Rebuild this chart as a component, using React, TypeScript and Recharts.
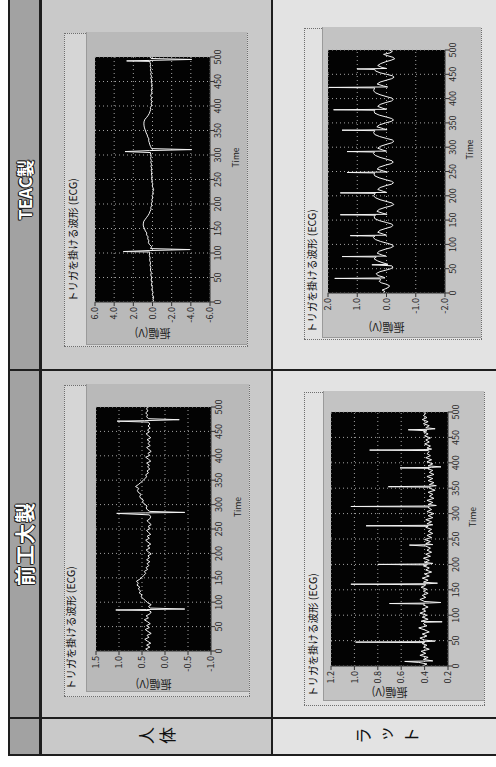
import React from "react";
import { LineChart, Line, XAxis, YAxis, CartesianGrid, Label } from "recharts";

// ---------- texts ----------
const columnHeaders = ["前工大製", "TEAC製"];
const rowLabels = ["人体", "ラット"];
const chartTitle = "トリガを掛ける波形 (ECG)";
const yAxisTitle = "振幅(V)";
const xAxisTitle = "Time";

// ---------- ticks ----------
const timeTicks = [0, 50, 100, 150, 200, 250, 300, 350, 400, 450, 500];
const humanMaekoudaiTicks = [-1, -0.5, 0, 0.5, 1, 1.5];
const humanTeacTicks = [-6, -4, -2, 0, 2, 4, 6];
const ratMaekoudaiTicks = [0.2, 0.4, 0.6, 0.8, 1.0, 1.2];
const ratTeacTicks = [-2, -1, 0, 1, 2];

// ---------- series: [time, volts] ----------
const humanMaekoudaiEcg: [number, number][] = [
  [0,0.36],[4,0.42],[8,0.33],[12,0.40],[16,0.31],[20,0.38],[24,0.44],[28,0.35],[32,0.39],[36,0.30],
  [40,0.37],[44,0.43],[48,0.34],[52,0.40],[56,0.32],[60,0.38],[64,0.45],[68,0.36],[72,0.41],[76,0.33],
  [80,0.30],[83,0.35],[84,1.07],[85,0.40],[86,-0.43],[88,0.32],[91,0.36],[95,0.30],[99,0.38],[103,0.42],
  [107,0.47],[111,0.52],[115,0.50],[119,0.56],[123,0.53],[127,0.58],[131,0.55],[135,0.61],[139,0.58],[143,0.62],
  [147,0.55],[151,0.50],[155,0.46],[159,0.42],[163,0.45],[167,0.38],[171,0.41],[175,0.35],[179,0.39],[183,0.33],
  [187,0.40],[191,0.34],[195,0.37],[199,0.30],[203,0.36],[207,0.41],[211,0.33],[215,0.38],[219,0.31],[223,0.37],
  [227,0.42],[231,0.34],[235,0.39],[239,0.31],[243,0.36],[247,0.40],[251,0.32],[255,0.37],[259,0.30],[263,0.35],
  [267,0.39],[271,0.33],[275,0.31],[279,0.34],[282,1.05],[283,0.42],[284,-0.43],[286,0.33],[289,0.38],[293,0.41],
  [297,0.39],[301,0.44],[305,0.49],[309,0.47],[313,0.53],[317,0.55],[321,0.52],[325,0.58],[329,0.60],[333,0.57],
  [337,0.64],[341,0.58],[345,0.53],[349,0.48],[353,0.44],[357,0.40],[361,0.42],[365,0.36],[369,0.39],[373,0.33],
  [377,0.38],[381,0.34],[385,0.40],[389,0.31],[393,0.36],[397,0.42],[401,0.33],[405,0.37],[409,0.30],[413,0.35],
  [417,0.40],[421,0.32],[425,0.37],[429,0.33],[433,0.39],[437,0.31],[441,0.36],[445,0.41],[449,0.34],[453,0.38],
  [457,0.32],[461,0.37],[465,0.33],[469,0.36],[471,1.04],[472,0.45],[474,-0.31],[476,0.36],[480,0.40],[484,0.38],
  [488,0.42],[492,0.37],[496,0.40],[500,0.38],
];

const humanTeacEcg: [number, number][] = [
  [0,-0.15],[5,-0.05],[10,-0.12],[15,0.02],[20,-0.06],[25,0.08],[30,0.0],[35,0.12],[40,0.05],[45,0.15],
  [50,0.08],[55,0.18],[60,0.12],[65,0.22],[70,0.17],[75,0.26],[80,0.2],[85,0.3],[90,0.25],[95,0.33],
  [100,0.3],[102,0.28],[103,3.04],[105,0.35],[107,-3.9],[109,0.2],[113,0.09],[117,0.3],[121,0.43],[125,0.38],
  [129,0.5],[133,0.46],[137,0.62],[141,0.6],[145,0.75],[149,0.82],[153,0.92],[157,0.97],[161,0.95],[165,0.9],
  [169,0.75],[173,0.6],[177,0.45],[181,0.33],[185,0.26],[189,0.15],[193,0.18],[197,0.08],[201,0.12],[205,0.02],
  [209,0.07],[213,-0.04],[217,0.05],[221,-0.1],[225,-0.02],[229,-0.12],[233,-0.05],[237,0.03],[241,-0.04],[245,0.08],
  [249,0.02],[253,0.1],[257,0.04],[261,0.12],[265,0.06],[269,0.14],[273,0.08],[277,0.16],[281,0.1],[285,0.18],
  [289,0.12],[293,0.2],[297,0.15],[301,0.22],[305,0.2],[307,2.87],[309,0.3],[311,-4.09],[313,0.1],[317,0.19],
  [321,0.28],[325,0.33],[329,0.4],[333,0.38],[337,0.5],[341,0.55],[345,0.66],[349,0.72],[353,0.8],[357,0.86],
  [361,0.89],[365,0.9],[369,0.87],[373,0.78],[377,0.6],[381,0.45],[385,0.33],[389,0.26],[393,0.18],[397,0.22],
  [401,0.1],[405,0.14],[409,0.06],[413,0.16],[417,0.08],[421,0.2],[425,0.1],[429,0.05],[433,0.13],[437,0.02],
  [441,0.11],[445,0.04],[449,0.15],[453,0.07],[457,0.18],[461,0.1],[465,0.2],[469,0.12],[473,0.22],[477,0.16],
  [481,0.24],[485,0.2],[489,0.26],[491,0.25],[492,2.7],[493,0.3],[495,-4.09],[497,0.15],[500,0.26],
];

const ratMaekoudaiEcg: [number, number][] = [
  [0,0.42],[4,0.38],[7,0.45],[9,0.57],[10,0.33],[13,0.41],[17,0.37],[21,0.44],[25,0.39],[29,0.43],
  [33,0.36],[37,0.41],[41,0.38],[44,0.42],[46,0.40],[47,0.99],[48,0.38],[49,0.31],[51,0.40],[55,0.44],
  [59,0.38],[63,0.42],[67,0.36],[71,0.40],[75,0.45],[79,0.38],[83,0.41],[86,0.40],[87,0.25],[88,0.43],
  [92,0.37],[96,0.42],[100,0.38],[104,0.44],[108,0.39],[112,0.42],[116,0.37],[120,0.41],[122,0.40],[123,0.70],
  [124,0.36],[125,0.26],[127,0.40],[131,0.44],[135,0.39],[139,0.42],[143,0.37],[147,0.41],[151,0.38],[155,0.43],
  [158,0.40],[160,0.39],[161,1.03],[162,0.37],[163,0.29],[165,0.41],[169,0.37],[173,0.42],[177,0.36],[181,0.40],
  [185,0.34],[189,0.39],[193,0.36],[197,0.41],[199,0.38],[200,0.80],[201,0.36],[202,0.33],[204,0.40],[208,0.36],
  [212,0.41],[216,0.35],[220,0.39],[224,0.34],[228,0.38],[232,0.35],[236,0.39],[238,0.53],[239,0.33],[241,0.39],
  [245,0.35],[249,0.40],[253,0.34],[257,0.38],[261,0.33],[265,0.37],[269,0.34],[273,0.39],[275,0.37],[276,0.90],
  [277,0.36],[278,0.33],[280,0.38],[284,0.34],[288,0.39],[292,0.33],[296,0.37],[300,0.32],[304,0.38],[308,0.34],
  [312,0.37],[313,0.36],[314,1.03],[315,0.35],[316,0.30],[318,0.37],[322,0.33],[326,0.38],[330,0.32],[334,0.36],
  [338,0.33],[342,0.37],[346,0.31],[350,0.36],[352,0.35],[353,0.71],[354,0.34],[355,0.30],[357,0.36],[361,0.32],
  [365,0.37],[369,0.33],[373,0.38],[377,0.32],[381,0.36],[385,0.33],[388,0.37],[389,0.36],[390,0.61],[391,0.34],
  [392,0.26],[394,0.37],[398,0.33],[402,0.38],[406,0.34],[410,0.39],[414,0.35],[418,0.38],[422,0.36],[424,0.37],
  [425,0.87],[426,0.36],[427,0.34],[429,0.38],[433,0.35],[437,0.40],[441,0.36],[445,0.39],[449,0.35],[453,0.40],
  [457,0.37],[461,0.41],[463,0.38],[465,0.54],[466,0.36],[467,0.31],[469,0.39],[473,0.36],[477,0.41],[481,0.37],
  [485,0.42],[489,0.38],[493,0.41],[497,0.39],[500,0.40],
];

const ratTeacEcg: [number, number][] = [
  [0,0.12],[3,0.05],[6,0.15],[9,0.02],[12,-0.08],[15,-0.1],[18,0.0],[21,0.18],[24,0.25],[27,0.2],
  [29,0.22],[30,1.77],[31,0.05],[33,0.12],[36,0.3],[40,0.35],[44,0.22],[47,0.02],[50,-0.15],[53,-0.22],
  [56,-0.18],[58,0.5],[59,-0.05],[62,0.12],[66,0.3],[70,0.42],[73,0.38],[74,0.35],[75,1.52],[76,0.02],
  [78,0.15],[82,0.32],[86,0.25],[90,0.05],[93,-0.14],[96,-0.24],[99,-0.2],[102,-0.05],[106,0.2],[110,0.38],
  [114,0.45],[117,0.4],[118,1.24],[119,0.0],[121,0.1],[125,0.3],[129,0.22],[133,0.02],[136,-0.16],[139,-0.22],
  [142,-0.18],[145,0.0],[149,0.25],[153,0.4],[157,0.42],[160,0.38],[161,1.58],[162,-0.02],[164,0.12],[168,0.33],
  [172,0.25],[176,0.05],[179,-0.15],[182,-0.25],[185,-0.2],[188,-0.02],[192,0.22],[196,0.38],[200,0.44],[204,0.4],
  [205,0.38],[206,1.58],[207,0.0],[209,0.1],[213,0.3],[217,0.22],[221,0.02],[224,-0.18],[227,-0.24],[230,-0.17],
  [233,0.02],[237,0.25],[241,0.4],[245,0.43],[247,0.4],[248,1.35],[249,-0.03],[251,0.1],[255,0.32],[259,0.24],
  [263,0.04],[266,-0.15],[269,-0.23],[272,-0.19],[275,-0.02],[279,0.22],[283,0.38],[287,0.45],[290,0.41],[291,1.35],
  [292,0.0],[294,0.12],[298,0.3],[302,0.2],[306,0.0],[309,-0.18],[312,-0.25],[315,-0.2],[318,0.0],[322,0.24],
  [326,0.4],[330,0.44],[334,0.4],[335,1.52],[336,-0.02],[338,0.1],[342,0.33],[346,0.24],[350,0.03],[353,-0.16],
  [356,-0.24],[359,-0.18],[362,0.0],[366,0.25],[370,0.4],[374,0.42],[376,0.4],[377,1.81],[378,0.0],[380,0.12],
  [384,0.3],[388,0.22],[392,0.02],[395,-0.17],[398,-0.23],[401,-0.19],[404,0.0],[408,0.22],[412,0.38],[416,0.44],
  [420,0.42],[422,0.4],[423,1.98],[424,-0.04],[426,0.1],[430,0.32],[434,0.22],[438,0.0],[441,-0.18],[444,-0.26],
  [447,-0.2],[450,0.0],[453,0.22],[457,0.38],[460,0.4],[461,1.01],[462,0.0],[464,0.15],[468,0.3],[472,0.2],
  [476,0.02],[479,-0.16],[482,-0.28],[485,-0.22],[488,-0.05],[491,0.1],[494,-0.12],[497,-0.2],[500,-0.1],
];

// ---------- layout (unrotated page coordinates, page is 767 x 496 before rotation) ----------
type Rect = { l: number; t: number; r: number; b: number };
type PanelCfg = {
  series: [number, number][];
  ticks: number[];
  box: Rect;
  inner: Rect;
  plot: Rect;
  titleX: number;
  titleY: number;
  yLabelX: number;
  outerBg: string;
  innerBg: string;
};

const panels: PanelCfg[] = [
  {
    series: humanMaekoudaiEcg, ticks: humanMaekoudaiTicks,
    box: { l: 70, t: 64, r: 382, b: 250 }, inner: { l: 75, t: 86, r: 382, b: 248 },
    plot: { l: 116, t: 96, r: 360, b: 211 }, titleX: 77, titleY: 65, yLabelX: 83,
    outerBg: "#d6d6d6", innerBg: "#b9b9b9",
  },
  {
    series: humanTeacEcg, ticks: humanTeacTicks,
    box: { l: 420, t: 64, r: 734, b: 248 }, inner: { l: 422, t: 86, r: 734, b: 246 },
    plot: { l: 465, t: 95, r: 710, b: 210 }, titleX: 465, titleY: 67, yLabelX: 434,
    outerBg: "#d6d6d6", innerBg: "#b9b9b9",
  },
  {
    series: ratMaekoudaiEcg, ticks: ratMaekoudaiTicks,
    box: { l: 61, t: 304, r: 375, b: 485 }, inner: { l: 66, t: 323, r: 375, b: 483 },
    plot: { l: 101, t: 331, r: 355, b: 448 }, titleX: 70, titleY: 307, yLabelX: 75,
    outerBg: "#e2e2e2", innerBg: "#c3c3c3",
  },
  {
    series: ratTeacEcg, ticks: ratTeacTicks,
    box: { l: 427, t: 304, r: 739, b: 482 }, inner: { l: 429, t: 322, r: 739, b: 480 },
    plot: { l: 474, t: 328, r: 717, b: 445 }, titleX: 434, titleY: 306, yLabelX: 440,
    outerBg: "#e2e2e2", innerBg: "#c3c3c3",
  },
];

const FONT = "'Noto Sans CJK JP', 'Noto Sans', sans-serif";

function EcgPanel({ cfg }: { cfg: PanelCfg }) {
  const { box, inner, plot, ticks } = cfg;
  const w = box.r - box.l;
  const h = box.b - box.t;
  const pts = cfg.series.map(([t, v]) => ({ t, v }));
  return (
    <div style={{ position: "absolute", left: box.l, top: box.t, width: w, height: h, background: cfg.outerBg }}>
      <div style={{ position: "absolute", inset: 0, border: "1px dotted #6e6e6e" }} />
      <div
        style={{
          position: "absolute", left: inner.l - box.l, top: inner.t - box.t,
          width: inner.r - inner.l, height: inner.b - inner.t, background: cfg.innerBg,
          borderTop: "1px solid #9a9a9a", borderLeft: "1px solid #9a9a9a",
        }}
      />
      <div
        style={{
          position: "absolute", left: cfg.titleX - box.l, top: cfg.titleY - box.t,
          fontSize: 10.5, lineHeight: "12px", whiteSpace: "nowrap", color: "#111", fontFamily: FONT,
        }}
      >
        {chartTitle}
      </div>
      <div style={{ position: "absolute", left: 0, top: 0 }}>
        <LineChart
          width={w}
          height={h}
          data={pts}
          margin={{ top: plot.t - box.t, right: box.r - plot.r, left: 0, bottom: 0 }}
        >
          <CartesianGrid stroke="#a4a4a4" strokeDasharray="1 3" fill="#030303" fillOpacity={1} />
          <XAxis
            type="number" dataKey="t" domain={[0, 500]} ticks={timeTicks}
            height={box.b - plot.b} tickSize={4} tickMargin={1} interval={0}
            axisLine={{ stroke: "#333" }} tickLine={{ stroke: "#333" }}
            tick={{ fontSize: 9, fill: "#222", fontFamily: FONT }}
          >
            <Label value={xAxisTitle} position="insideBottom" offset={9} dx={22}
              style={{ fontSize: 8.5, fill: "#222", fontFamily: FONT }} />
          </XAxis>
          <YAxis
            type="number" domain={[ticks[0], ticks[ticks.length - 1]]} ticks={ticks}
            width={plot.l - box.l} tickSize={4} tickMargin={1} interval={0}
            tickFormatter={(v: number) => v.toFixed(1)}
            axisLine={{ stroke: "#333" }} tickLine={{ stroke: "#333" }}
            tick={{ fontSize: 9, fill: "#222", fontFamily: FONT }}
          >
            <Label value={yAxisTitle} angle={-90} position="insideLeft" offset={cfg.yLabelX - box.l}
              style={{ fontSize: 11, fill: "#222", fontFamily: FONT, textAnchor: "middle" }} />
          </YAxis>
          <Line
            type="linear" dataKey="v" stroke="#f4f4f4" strokeWidth={1}
            dot={false} isAnimationActive={false}
          />
        </LineChart>
      </div>
    </div>
  );
}

function Bar({ l, t, w, h, c = "#1e1e1e" }: { l: number; t: number; w: number; h: number; c?: string }) {
  return <div style={{ position: "absolute", left: l, top: t, width: w, height: h, background: c }} />;
}

const headerText: React.CSSProperties = {
  position: "absolute", top: 9, height: 30, display: "flex", alignItems: "center", justifyContent: "center",
  color: "#fff", fontWeight: 700, fontFamily: FONT,
  textShadow: "1px 0 0 #222, -1px 0 0 #222, 0 1px 0 #222, 0 -1px 0 #222, 1px 1px 0 #222, -1px -1px 0 #222",
};

const rowLabelText: React.CSSProperties = {
  position: "absolute", left: 21, writingMode: "vertical-rl", fontSize: 17,
  lineHeight: "20px", color: "#111", fontFamily: FONT,
};

export default function App() {
  return (
    <div style={{ position: "fixed", left: 0, top: 0, width: 496, height: 767, overflow: "hidden", background: "#fff" }}>
      <div
        style={{
          position: "absolute", left: 0, top: 0, width: 767, height: 496,
          transformOrigin: "0 0", transform: "translate(0px, 767px) rotate(-90deg)",
        }}
      >
        {/* table body: 人体 row darker, ラット row lighter */}
        <div style={{ position: "absolute", left: 12, top: 9, width: 760, height: 263, background: "#c9c9c9" }} />
        <div style={{ position: "absolute", left: 12, top: 272, width: 760, height: 230, background: "#e3e3e3" }} />
        {/* header row */}
        <div style={{ position: "absolute", left: 12, top: 9, width: 760, height: 31, background: "#a2a2a2" }} />
        <div style={{ ...headerText, left: 49, width: 348, fontSize: 20, letterSpacing: 1 }}>{columnHeaders[0]}</div>
        <div style={{ ...headerText, left: 397, width: 360, fontSize: 17 }}>{columnHeaders[1]}</div>

        {/* row labels (vertical writing) */}
        <div style={{ ...rowLabelText, top: 138, letterSpacing: 4 }}>{rowLabels[0]}</div>
        <div style={{ ...rowLabelText, top: 355, letterSpacing: 7 }}>{rowLabels[1]}</div>

        {/* charts */}
        {panels.map((p, i) => (
          <EcgPanel key={i} cfg={p} />
        ))}

        {/* table lines */}
        <Bar l={11} t={8} w={760} h={2} />
        <Bar l={11} t={8} w={2} h={490} />
        <Bar l={11} t={39} w={760} h={3} />
        <Bar l={48} t={8} w={2} h={490} />
        <Bar l={396} t={8} w={2} h={490} />
        <Bar l={11} t={271} w={760} h={2} />
      </div>
    </div>
  );
}
